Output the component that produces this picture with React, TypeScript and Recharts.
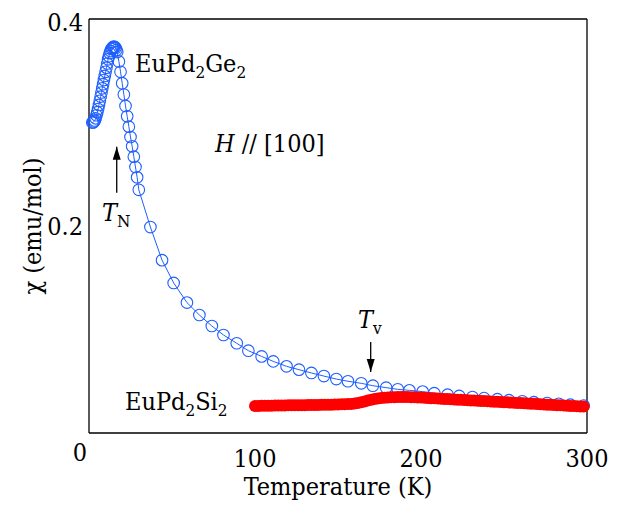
import React from "react"
import { ScatterChart, Scatter, XAxis, YAxis, ReferenceLine, Label } from "recharts"

// EuPd2Ge2, H // [100]
const geT = [
  2, 2.5, 3, 3.5, 4, 4.5, 5, 5.5, 6, 6.5, 7, 7.5, 8, 8.5, 9, 9.5, 10, 10.5, 11, 11.5,
  12, 12.5, 13, 13.5, 14, 14.5, 15, 15.5, 16, 16.5, 17, 18, 19, 20, 21, 22, 23, 24, 25, 26,
  27, 28, 29, 30, 37, 44, 51, 59, 66.5, 74, 81, 89, 96, 104, 111, 119, 126.5, 134, 141.5, 149,
  156, 164, 171, 179, 186, 193, 201, 208, 216, 223, 231, 238, 246, 253, 261, 268, 276, 283, 290, 298,
]
const geChi = [
  0.300, 0.300, 0.301, 0.302, 0.304, 0.307, 0.310, 0.313, 0.317, 0.321, 0.325, 0.329, 0.333, 0.337, 0.341, 0.345, 0.349, 0.353, 0.357, 0.361,
  0.364, 0.367, 0.369, 0.371, 0.372, 0.373, 0.373, 0.373, 0.372, 0.370, 0.368, 0.359, 0.349, 0.338, 0.327, 0.316, 0.306, 0.296, 0.286, 0.277,
  0.267, 0.257, 0.247, 0.235, 0.199, 0.167, 0.145, 0.126, 0.114, 0.1034, 0.0947, 0.0867, 0.0795, 0.0740, 0.0692, 0.0644, 0.0612, 0.0580, 0.0550, 0.0521,
  0.0500, 0.0480, 0.0457, 0.0438, 0.0422, 0.0412, 0.0400, 0.0385, 0.0370, 0.0358, 0.0347, 0.0337, 0.0327, 0.0317, 0.0307, 0.0298, 0.0290, 0.0282, 0.0274, 0.0265,
]

// EuPd2Si2
const siT = [
  100, 102, 104, 106, 108, 110, 112, 114, 116, 118, 120, 122, 124, 126, 128, 130, 132, 134, 136, 138,
  140, 142, 144, 146, 148, 150, 152, 154, 156, 158, 160, 162, 164, 166, 168, 170, 172, 174, 176, 178,
  180, 182, 184, 186, 188, 190, 192, 194, 196, 198, 200, 202, 204, 206, 208, 210, 212, 214, 216, 218,
  220, 222, 224, 226, 228, 230, 232, 234, 236, 238, 240, 242, 244, 246, 248, 250, 252, 254, 256, 258,
  260, 262, 264, 266, 268, 270, 272, 274, 276, 278, 280, 282, 284, 286, 288, 290, 292, 294, 296, 298,
]
const siChi = [
  0.0262, 0.0262, 0.0263, 0.0263, 0.0264, 0.0264, 0.0265, 0.0265, 0.0266, 0.0266, 0.0267, 0.0267, 0.0268, 0.0268, 0.0269, 0.0269, 0.0270, 0.0270, 0.0271, 0.0271,
  0.0272, 0.0272, 0.0273, 0.0274, 0.0275, 0.0276, 0.0277, 0.0278, 0.0279, 0.0281, 0.0284, 0.0289, 0.0296, 0.0305, 0.0314, 0.0322, 0.0329, 0.0334, 0.0338, 0.0341,
  0.0343, 0.0345, 0.0346, 0.0347, 0.0347, 0.0347, 0.0347, 0.0346, 0.0345, 0.0344, 0.0342, 0.0340, 0.0338, 0.0336, 0.0335, 0.0333, 0.0331, 0.0329, 0.0328, 0.0326,
  0.0324, 0.0322, 0.0321, 0.0319, 0.0317, 0.0315, 0.0313, 0.0312, 0.0310, 0.0308, 0.0306, 0.0305, 0.0303, 0.0301, 0.0299, 0.0297, 0.0296, 0.0294, 0.0292, 0.0290,
  0.0289, 0.0287, 0.0285, 0.0283, 0.0282, 0.0280, 0.0278, 0.0276, 0.0274, 0.0273, 0.0271, 0.0269, 0.0267, 0.0266, 0.0264, 0.0262, 0.0260, 0.0259, 0.0257, 0.0255,
]

const xLabels = [0, 100, 200, 300]
const xMajor = [100, 200]
const xMinor = [50, 150, 250]
const yLabels = [0.2, 0.4]
const yMajor = [0.2]
const yMinor = [0.1, 0.3]

// annotation anchors (data coordinates)
const notes = [
  { T: 27.7, chi: 0.3488, id: "ge" },
  { T: 21.7, chi: 0.0222, id: "si" },
  { T: 75.9, chi: 0.2715, id: "h" },
  { T: 7.8, chi: 0.2048, id: "tn" },
  { T: 162, chi: 0.1014, id: "tv" },
]
const arrowTips = [
  { T: 16.7, chi: 0.2766, dir: 1 },
  { T: 169.7, chi: 0.0589, dir: -1 },
]

const geData = geT.map((t, i) => ({ T: t, chi: geChi[i] }))
const siData = siT.map((t, i) => ({ T: t, chi: siChi[i] }))

const FONT = "DejaVu Serif Condensed, DejaVu Serif, serif"
const BLUE = "#1f5fff"
const RED = "#ff0000"
const axisLine = { stroke: "#000", strokeWidth: 1.3 }
const tickLine = { stroke: "#000", strokeWidth: 1.2 }
const txt = { fontFamily: FONT, fontSize: 25, fill: "#000" }
const sub = { fontSize: 17 }

const XTick = (props: any) => {
  const { x, y, payload } = props
  const zero = payload.value === 0
  return (
    <text x={x + (zero ? -9 : 0)} y={y + (zero ? -6 : 0)} dy="0.71em" textAnchor="middle" style={txt}>
      {payload.value}
    </text>
  )
}

const YTick = (props: any) => {
  const { x, y, payload } = props
  return (
    <text x={x} y={y + (payload.value === 0.4 ? 3 : 0)} dy="0.355em" textAnchor="end" style={txt}>
      {payload.value}
    </text>
  )
}

const openCircle = (p: any) => <circle cx={p.cx} cy={p.cy} r={5.8} fill="none" stroke={BLUE} strokeWidth={1.1} />
const dotFilled = (p: any) => <circle cx={p.cx} cy={p.cy} r={6} fill={RED} />

const noteShape = (p: any) => {
  const { cx, cy, payload } = p
  switch (payload.id) {
    case "ge":
      return <text x={cx} y={cy} style={txt}>EuPd<tspan style={sub} dy={6}>2</tspan><tspan dy={-6}>Ge</tspan><tspan style={sub} dy={6}>2</tspan></text>
    case "si":
      return <text x={cx} y={cy} style={txt}>EuPd<tspan style={sub} dy={6}>2</tspan><tspan dy={-6}>Si</tspan><tspan style={sub} dy={6}>2</tspan></text>
    case "h":
      return <text x={cx} y={cy} style={txt}><tspan fontStyle="italic">H</tspan> // [100]</text>
    case "tn":
      return <text x={cx} y={cy} style={txt}><tspan fontStyle="italic">T</tspan><tspan style={sub} dy={6}>N</tspan></text>
    default:
      return <text x={cx} y={cy} style={txt}><tspan fontStyle="italic">T</tspan><tspan style={sub} dy={6}>v</tspan></text>
  }
}

const arrowHead = (p: any) => {
  const { cx, cy, payload } = p
  const b = cy + 13 * payload.dir
  return <polygon points={`${cx},${cy} ${cx - 4},${b} ${cx + 4},${b}`} fill="#000" />
}

const YLabel = (props: any) => {
  const { viewBox } = props
  const x = viewBox.x + 33
  const y = viewBox.y + viewBox.height / 2
  return (
    <text x={x} y={y} transform={`rotate(-90, ${x}, ${y})`} textAnchor="middle" style={txt}>
      χ (emu/mol)
    </text>
  )
}

export default function App() {
  return (
    <ScatterChart width={606} height={492} margin={{ top: 11, right: 27, bottom: 0, left: 0 }}>
      <XAxis type="number" dataKey="T" domain={[0, 300]} ticks={xLabels} tick={<XTick />}
        tickLine={false} tickSize={0} tickMargin={16} axisLine={axisLine} height={67}>
        <Label value="Temperature (K)" position="insideBottom" offset={5} style={txt} />
      </XAxis>
      <XAxis xAxisId="bMaj" type="number" domain={[0, 300]} ticks={xMajor} mirror tick={false} axisLine={false} tickLine={tickLine} tickSize={10} />
      <XAxis xAxisId="bMin" type="number" domain={[0, 300]} ticks={xMinor} mirror tick={false} axisLine={false} tickLine={tickLine} tickSize={6} />
      <XAxis xAxisId="tMaj" orientation="top" type="number" domain={[0, 300]} ticks={xMajor} mirror tick={false} axisLine={axisLine} tickLine={tickLine} tickSize={10} />
      <XAxis xAxisId="tMin" orientation="top" type="number" domain={[0, 300]} ticks={xMinor} mirror tick={false} axisLine={false} tickLine={tickLine} tickSize={6} />

      <YAxis type="number" dataKey="chi" domain={[0, 0.4]} ticks={yLabels} tick={<YTick />}
        tickLine={false} tickSize={0} tickMargin={6} axisLine={axisLine} width={81}>
        <Label content={<YLabel />} />
      </YAxis>
      <YAxis yAxisId="lMaj" type="number" domain={[0, 0.4]} ticks={yMajor} mirror tick={false} axisLine={false} tickLine={tickLine} tickSize={10} />
      <YAxis yAxisId="lMin" type="number" domain={[0, 0.4]} ticks={yMinor} mirror tick={false} axisLine={false} tickLine={tickLine} tickSize={6} />
      <YAxis yAxisId="rMaj" orientation="right" type="number" domain={[0, 0.4]} ticks={yMajor} mirror tick={false} axisLine={axisLine} tickLine={tickLine} tickSize={10} />
      <YAxis yAxisId="rMin" orientation="right" type="number" domain={[0, 0.4]} ticks={yMinor} mirror tick={false} axisLine={false} tickLine={tickLine} tickSize={6} />

      <Scatter data={geData} shape={openCircle} line={{ stroke: BLUE, strokeWidth: 1 }} isAnimationActive={false} />
      <Scatter data={siData} shape={dotFilled} isAnimationActive={false} />

      <ReferenceLine segment={[{ x: 16.7, y: 0.2322 }, { x: 16.7, y: 0.2766 }]} stroke="#000" strokeWidth={1.3} />
      <ReferenceLine segment={[{ x: 169.7, y: 0.0879 }, { x: 169.7, y: 0.0589 }]} stroke="#000" strokeWidth={1.3} />
      <Scatter data={arrowTips} dataKey="chi" shape={arrowHead} isAnimationActive={false} />
      <Scatter data={notes} dataKey="chi" shape={noteShape} isAnimationActive={false} />
    </ScatterChart>
  )
}
